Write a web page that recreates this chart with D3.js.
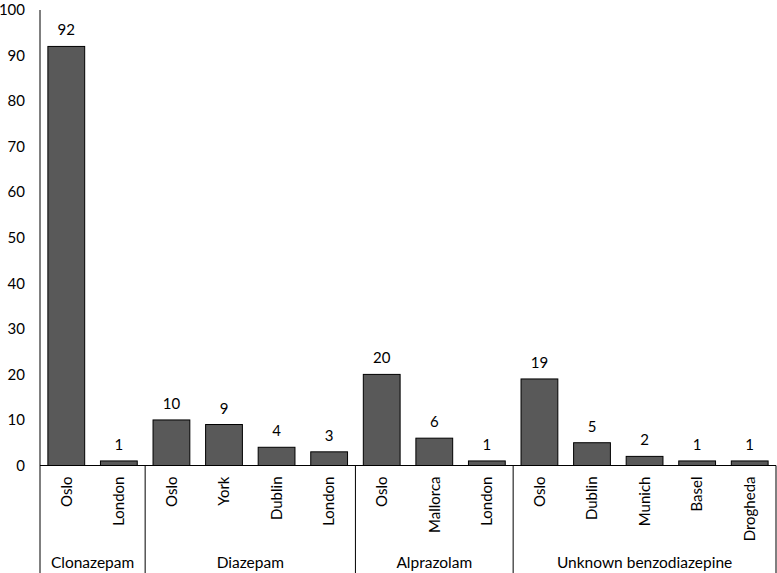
<!DOCTYPE html>
<html>
<head>
<meta charset="utf-8">
<script src="https://d3js.org/d3.v7.min.js"></script>
<style>
  body { margin: 0; background: #fff; }
  svg { display: block; }
  text { font-family: Lato, "Open Sans", sans-serif; fill: #000; }
</style>
</head>
<body>
<div id="chart"></div>
<script>
  // chart data
  var drugs = ["Clonazepam", "Diazepam", "Alprazolam", "Unknown benzodiazepine"];
  var cities = [
    ["Oslo", "London"],
    ["Oslo", "York", "Dublin", "London"],
    ["Oslo", "Mallorca", "London"],
    ["Oslo", "Dublin", "Munich", "Basel", "Drogheda"]
  ];
  var counts = [
    [92, 1],
    [10, 9, 4, 3],
    [20, 6, 1],
    [19, 5, 2, 1, 1]
  ];
  var yTicks = [0, 10, 20, 30, 40, 50, 60, 70, 80, 90, 100];

  var width = 777, height = 573;
  var plotLeft = 40, plotRight = 776, plotTop = 10, base = 465.5;

  // flatten into one row per bar
  var rows = [];
  drugs.forEach(function(d, i) {
    cities[i].forEach(function(c, j) {
      rows.push({ key: i + "-" + j, drug: d, city: c, value: counts[i][j] });
    });
  });

  var svg = d3.select("#chart").append("svg")
      .attr("width", width)
      .attr("height", height);

  var x = d3.scaleBand()
      .domain(rows.map(function(r) { return r.key; }))
      .range([plotLeft, plotRight])
      .paddingInner(0.3)
      .paddingOuter(0.15);

  var y = d3.scaleLinear()
      .domain([0, 100])
      .range([base, plotTop]);

  // y tick labels (no tick marks)
  svg.selectAll(".ytick")
      .data(yTicks)
      .enter().append("text")
      .attr("class", "ytick")
      .attr("x", 25)
      .attr("y", function(d) { return y(d); })
      .attr("dy", "0.35em")
      .attr("text-anchor", "end")
      .style("font-size", "15px")
      .text(function(d) { return d; });

  // bars
  svg.selectAll(".bar")
      .data(rows)
      .enter().append("rect")
      .attr("class", "bar")
      .attr("x", function(d) { return x(d.key); })
      .attr("y", function(d) { return y(d.value); })
      .attr("width", x.bandwidth())
      .attr("height", function(d) { return base - y(d.value); })
      .style("fill", "#595959")
      .style("stroke", "#000")
      .style("stroke-width", 1);

  // value labels
  svg.selectAll(".val")
      .data(rows)
      .enter().append("text")
      .attr("class", "val")
      .attr("x", function(d) { return x(d.key) + x.bandwidth() / 2; })
      .attr("y", function(d) { return y(d.value) - 11; })
      .attr("text-anchor", "middle")
      .style("font-size", "15px")
      .text(function(d) { return d.value; });

  // axis lines
  svg.append("line")
      .attr("x1", plotLeft).attr("x2", plotLeft)
      .attr("y1", plotTop).attr("y2", height)
      .style("stroke", "#000");
  svg.append("line")
      .attr("x1", plotLeft).attr("x2", plotRight)
      .attr("y1", base).attr("y2", base)
      .style("stroke", "#000");

  // city labels, rotated
  svg.selectAll(".city")
      .data(rows)
      .enter().append("text")
      .attr("class", "city")
      .attr("transform", function(d) {
        return "translate(" + (x(d.key) + x.bandwidth() / 2) + "," + (base + 11) + ") rotate(-90)";
      })
      .attr("dy", "0.35em")
      .attr("text-anchor", "end")
      .style("font-size", "15px")
      .text(function(d) { return d.city; });

  // group separators and group labels
  var step = x.step();
  var start = 0;
  var groups = drugs.map(function(d, i) {
    var g = { name: d, x0: plotLeft + start * step, x1: plotLeft + (start + cities[i].length) * step };
    start += cities[i].length;
    return g;
  });

  svg.selectAll(".sep")
      .data(groups)
      .enter().append("line")
      .attr("class", "sep")
      .attr("x1", function(d) { return d.x1; })
      .attr("x2", function(d) { return d.x1; })
      .attr("y1", base).attr("y2", height)
      .style("stroke", "#000");

  svg.selectAll(".grp")
      .data(groups)
      .enter().append("text")
      .attr("class", "grp")
      .attr("x", function(d) { return (d.x0 + d.x1) / 2; })
      .attr("y", 563)
      .attr("dy", "0.35em")
      .attr("text-anchor", "middle")
      .style("font-size", "15.5px")
      .text(function(d) { return d.name; });
</script>
</body>
</html>
